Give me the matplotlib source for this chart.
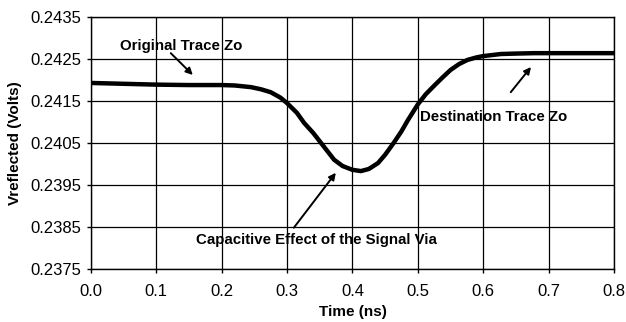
import matplotlib
matplotlib.use("Agg")
import matplotlib.pyplot as plt

plt.rcParams['font.family'] = ['Liberation Sans', 'DejaVu Sans']

time_ns = [0.00, 0.05, 0.10, 0.15, 0.20, 0.22, 0.245, 0.26, 0.275, 0.29, 0.30,
           0.315, 0.326, 0.34, 0.352, 0.362, 0.372, 0.385, 0.40, 0.413, 0.425,
           0.439, 0.45, 0.463, 0.475, 0.485, 0.50, 0.512, 0.524, 0.537, 0.55,
           0.563, 0.576, 0.59, 0.60, 0.627, 0.65, 0.678, 0.72, 0.76, 0.80]
v_reflected = [0.24193, 0.24191, 0.24189, 0.24188, 0.24188, 0.24187, 0.24183,
               0.24178, 0.24171, 0.24158, 0.24145, 0.24122, 0.24098, 0.24074,
               0.24050, 0.24030, 0.24010, 0.23995, 0.23986, 0.23983, 0.23988,
               0.24002, 0.24022, 0.24050, 0.24078, 0.24105, 0.24142, 0.24166,
               0.24185, 0.24205, 0.24224, 0.24238, 0.24248, 0.24254, 0.24257,
               0.24262, 0.24263, 0.24264, 0.24264, 0.24264, 0.24264]

x_ticks = [0.0, 0.1, 0.2, 0.3, 0.4, 0.5, 0.6, 0.7, 0.8]
y_ticks = [0.2375, 0.2385, 0.2395, 0.2405, 0.2415, 0.2425, 0.2435]

labels = ["Original Trace Zo", "Destination Trace Zo",
          "Capacitive Effect of the Signal Via"]
label_pos = [(0.1376, 0.24281), (0.616, 0.24112), (0.3456, 0.23819)]
arrow_tail = [(0.1223, 0.24264), (0.642, 0.24171), (0.3104, 0.23848)]
arrow_head = [(0.156, 0.24212), (0.673, 0.24231), (0.3746, 0.23979)]

fig = plt.figure(figsize=(6.26, 3.22), dpi=100)
ax = fig.add_axes([0.145, 0.165, 0.836, 0.782])

ax.plot(time_ns, v_reflected, color='black', lw=3.2, solid_capstyle='butt', zorder=3)

ax.set_xlim(0.0, 0.8)
ax.set_ylim(0.2375, 0.2435)
ax.set_xticks(x_ticks)
ax.set_xticklabels([f"{t:.1f}" for t in x_ticks])
ax.set_yticks(y_ticks)
ax.set_yticklabels([f"{v:.4f}" for v in y_ticks])
ax.grid(True, color='black', lw=0.9)
ax.set_axisbelow(True)
for s in ax.spines.values():
    s.set_color('black')
    s.set_linewidth(1.0)
ax.tick_params(axis='both', direction='out', length=3, width=1, labelsize=12,
               colors='black', pad=4)
ax.tick_params(axis='x', pad=8)

ax.set_xlabel("Time (ns)", fontsize=11, fontweight='bold', labelpad=4)
ax.set_ylabel("Vreflected (Volts)", fontsize=11, fontweight='bold', labelpad=6)

for txt, pos in zip(labels, label_pos):
    ax.text(pos[0], pos[1], txt, fontsize=10.8, fontweight='bold',
            ha='center', va='center', color='black', zorder=4)
for tail, head in zip(arrow_tail, arrow_head):
    ax.annotate("", xy=head, xytext=tail,
                arrowprops=dict(arrowstyle='-|>', color='black', lw=1.4,
                                mutation_scale=10, shrinkA=0, shrinkB=0), zorder=4)

fig.savefig("out.png", dpi=100)
